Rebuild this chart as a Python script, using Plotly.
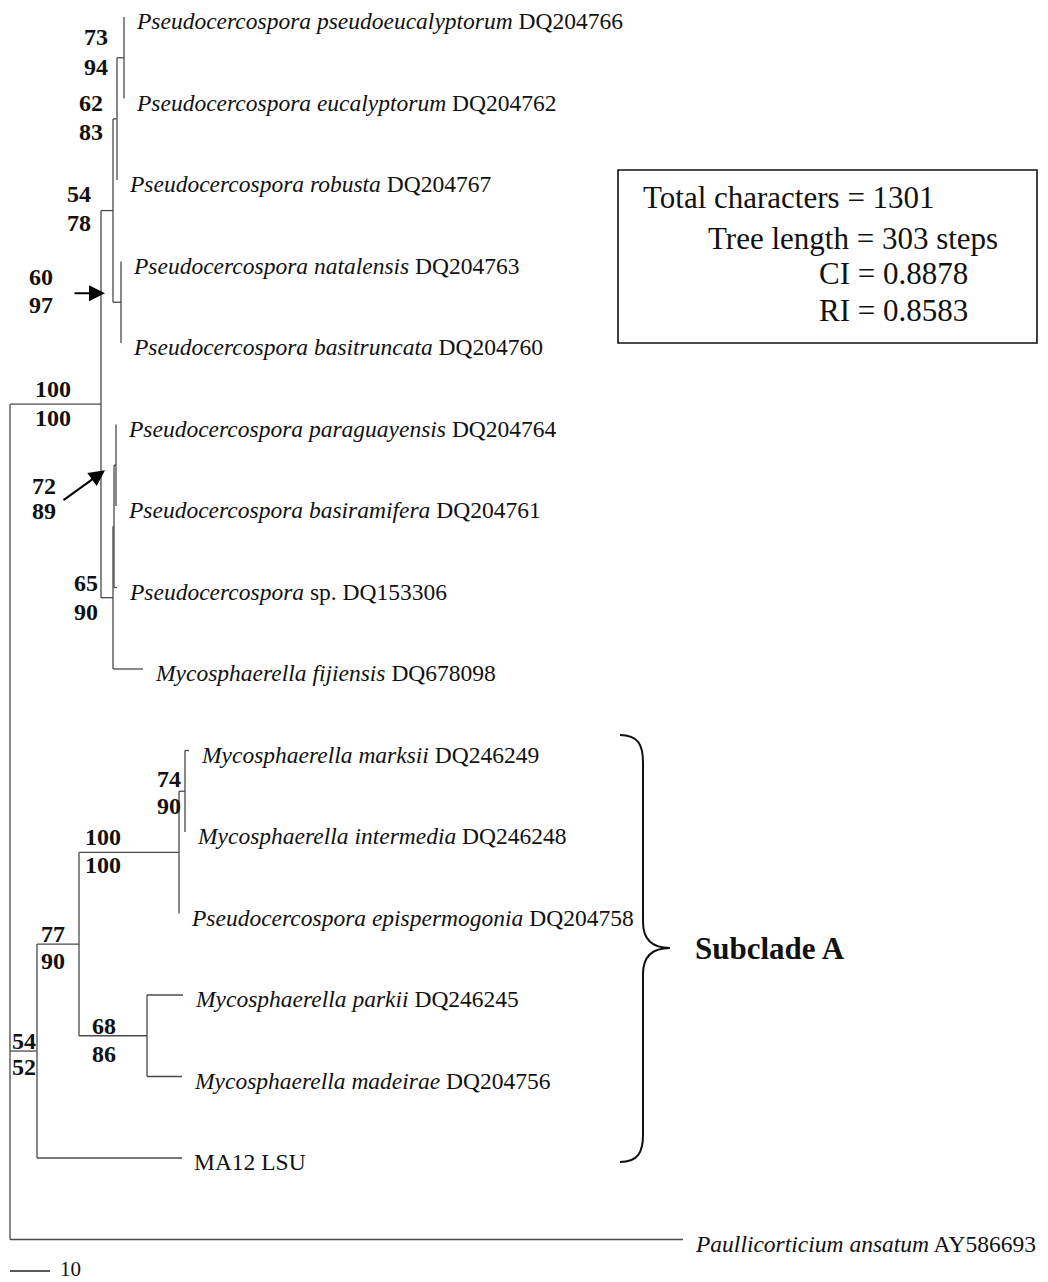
import plotly.graph_objects as go

# ---------------- data ----------------
# Terminal taxa, top to bottom: italic name part and roman part
leaf_italic = [
    "Pseudocercospora pseudoeucalyptorum",
    "Pseudocercospora eucalyptorum",
    "Pseudocercospora robusta",
    "Pseudocercospora natalensis",
    "Pseudocercospora basitruncata",
    "Pseudocercospora paraguayensis",
    "Pseudocercospora basiramifera",
    "Pseudocercospora",
    "Mycosphaerella fijiensis",
    "Mycosphaerella marksii",
    "Mycosphaerella intermedia",
    "Pseudocercospora epispermogonia",
    "Mycosphaerella parkii",
    "Mycosphaerella madeirae",
    "",
    "Paullicorticium ansatum",
]
leaf_roman = [
    "DQ204766", "DQ204762", "DQ204767", "DQ204763", "DQ204760",
    "DQ204764", "DQ204761", "sp. DQ153306", "DQ678098", "DQ246249",
    "DQ246248", "DQ204758", "DQ246245", "DQ204756", "MA12 LSU", "AY586693",
]
leaf_rows = list(range(16))

# Leaf attachment: parent node and branch length (steps)
leaf_parents = ["G", "G", "D", "E", "E", "H", "H", "F", "C",
                "T", "T", "R", "S", "S", "P", "root"]
leaf_lengths = [0, 0, 0, 0, 0, 0, 0, 0.75, 7.5,
                1.0, 0, 0, 9.0, 8.75, 36.25, 168.25]

# Internal nodes: name, parent, branch length (steps)
node_names = ["A", "B", "D", "G", "E", "C", "F", "H", "P", "Q", "R", "T", "S"]
node_parents = ["root", "A", "B", "D", "B", "A", "C", "F", "root", "P", "Q", "R", "Q"]
node_lengths = [22.75, 3.0, 1.0, 1.75, 2.0, 3.0, 0.25, 0.5, 6.75, 10.5, 25.0, 1.5, 17.0]

# Support values at internal nodes (upper / lower)
support_nodes = ["G", "D", "B", "E", "A", "H", "C", "T", "R", "Q", "S", "P"]
support_upper = [73, 62, 54, 60, 100, 72, 65, 74, 100, 77, 68, 54]
support_lower = [94, 83, 78, 97, 100, 89, 90, 90, 100, 90, 86, 52]

scale_bar_len = 10

stats_lines = ["Total characters = 1301", "Tree length = 303 steps",
               "CI = 0.8878", "RI = 0.8583"]
clade_label = "Subclade A"

# ---------------- layout helpers (pixel <-> axis units) ----------------
W, H = 1048, 1282
PX_PER_STEP = 4.0
ROOT_PX = 10.0
ROW0_PX, ROW_PX = 17.0, 81.5


def X(px):
    return (px - ROOT_PX) / PX_PER_STEP


def Y(py):
    return (py - ROW0_PX) / ROW_PX


# ---------------- tree geometry ----------------
children = {}
length = {}
parent = {}
for i, (p, bl) in enumerate(zip(leaf_parents, leaf_lengths)):
    key = f"L{i}"
    children.setdefault(p, []).append(key)
    length[key] = bl
    parent[key] = p
for n, p, bl in zip(node_names, node_parents, node_lengths):
    children.setdefault(p, []).append(n)
    length[n] = bl
    parent[n] = p

xpos = {"root": 0.0}
ypos = {}


def place_x(n):
    for c in children.get(n, []):
        xpos[c] = xpos[n] + length[c]
        place_x(c)


def place_y(n):
    if n.startswith("L"):
        ypos[n] = leaf_rows[int(n[1:])]
        return ypos[n]
    ys = [place_y(c) for c in children[n]]
    ypos[n] = (min(ys) + max(ys)) / 2
    return ypos[n]


place_x("root")
place_y("root")

lx, ly = [], []
for n in list(xpos):
    if n != "root":
        lx += [xpos[parent[n]], xpos[n], None]
        ly += [ypos[n], ypos[n], None]
    if n in children:
        cys = [ypos[c] for c in children[n]]
        lx += [xpos[n], xpos[n], None]
        ly += [min(cys), max(cys), None]

fig = go.Figure()
fig.add_trace(go.Scatter(x=lx, y=ly, mode="lines",
                         line=dict(color="#4a4a4a", width=1.3),
                         hoverinfo="skip"))

# scale bar
bar_y = Y(1271)
fig.add_trace(go.Scatter(x=[0, scale_bar_len], y=[bar_y, bar_y], mode="lines",
                         line=dict(color="#222", width=1.6), hoverinfo="skip"))

FONT = "Liberation Serif, Times New Roman, serif"
ann = []

# taxon labels
for i in range(len(leaf_rows)):
    key = f"L{i}"
    it, ro = leaf_italic[i], leaf_roman[i]
    txt = (f"<i>{it}</i> {ro}" if it else ro)
    ann.append(dict(x=xpos[key], y=ypos[key], text=txt, showarrow=False,
                    xanchor="left", yanchor="middle", xshift=10, yshift=-4,
                    font=dict(family=FONT, size=23.5, color="#111")))

# support value placement (px offsets from node: right edge, upper, lower)
label_offsets = {
    "G": (-14, -21, 9), "D": (-12, -15.5, 13.5), "B": (-20, -17, 12),
    "E": (-66, -25, 3), "A": (-28, -15, 14), "H": (-58, 21, 46),
    "C": (-13, -15, 14), "T": (-2, -12, 15), "R": (-56, -15, 13),
    "Q": (-12, -10, 17), "S": (-29, -10, 18), "P": (1, -10, 16),
}
for n, up, lo in zip(support_nodes, support_upper, support_lower):
    dx, dyu, dyl = label_offsets[n]
    for val, dy in ((up, dyu), (lo, dyl)):
        ann.append(dict(x=xpos[n], y=ypos[n], text=f"<b>{val}</b>",
                        showarrow=False, xanchor="right", yanchor="middle",
                        xshift=dx, yshift=-dy,
                        font=dict(family=FONT, size=24, color="#111")))

# pointer arrows for crowded nodes (tip offset from node, tail offset from tip)
arrows = {"E": ((-16, -9), (-32, 0)), "H": ((-11, 5), (-43, 31))}
for n, ((tx, ty), (ax, ay)) in arrows.items():
    ann.append(dict(x=xpos[n], y=ypos[n], xshift=tx, yshift=-ty, text="",
                    showarrow=True, ax=ax, ay=ay, arrowhead=2, arrowsize=1.6,
                    arrowwidth=2, arrowcolor="black", standoff=0))

# scale bar label
ann.append(dict(x=scale_bar_len, y=bar_y, text=str(scale_bar_len), showarrow=False,
                xanchor="left", yanchor="middle", xshift=8, yshift=2,
                font=dict(family=FONT, size=21, color="#111")))

# statistics box text
stats_pos = [(641, 197), (706, 238), (817, 273), (817, 310)]
for t, (px, py) in zip(stats_lines, stats_pos):
    ann.append(dict(x=X(px), y=Y(py), text=t, showarrow=False, xanchor="left",
                    yanchor="middle", font=dict(family=FONT, size=31, color="#111")))

# clade label
ann.append(dict(x=X(693), y=Y(948), text=f"<b>{clade_label}</b>", showarrow=False,
                xanchor="left", yanchor="middle",
                font=dict(family=FONT, size=31, color="#111")))

shapes = [dict(type="rect", xref="x", yref="y", x0=X(618), x1=X(1037),
               y0=Y(170), y1=Y(343), line=dict(color="#111", width=1.6))]

# curly brace
pts = [("M", [(620, 735)]),
       ("C", [(638, 735), (643, 745), (643, 762)]),
       ("L", [(643, 922)]),
       ("C", [(643, 940), (652, 948), (670, 948)]),
       ("C", [(652, 948), (643, 956), (643, 974)]),
       ("L", [(643, 1135)]),
       ("C", [(643, 1152), (638, 1162), (620, 1162)])]
path = " ".join(cmd + " " + " ".join(f"{X(a):.4f},{Y(b):.4f}" for a, b in p)
                for cmd, p in pts)
shapes.append(dict(type="path", xref="x", yref="y", path=path,
                   line=dict(color="#111", width=2)))

fig.update_layout(
    width=W, height=H, margin=dict(l=0, r=0, t=0, b=0),
    paper_bgcolor="white", plot_bgcolor="white", showlegend=False,
    xaxis=dict(range=[X(0), X(W)], visible=False, fixedrange=True),
    yaxis=dict(range=[Y(H), Y(0)], visible=False, fixedrange=True),
    annotations=ann, shapes=shapes,
)

fig.write_html("out.html")
